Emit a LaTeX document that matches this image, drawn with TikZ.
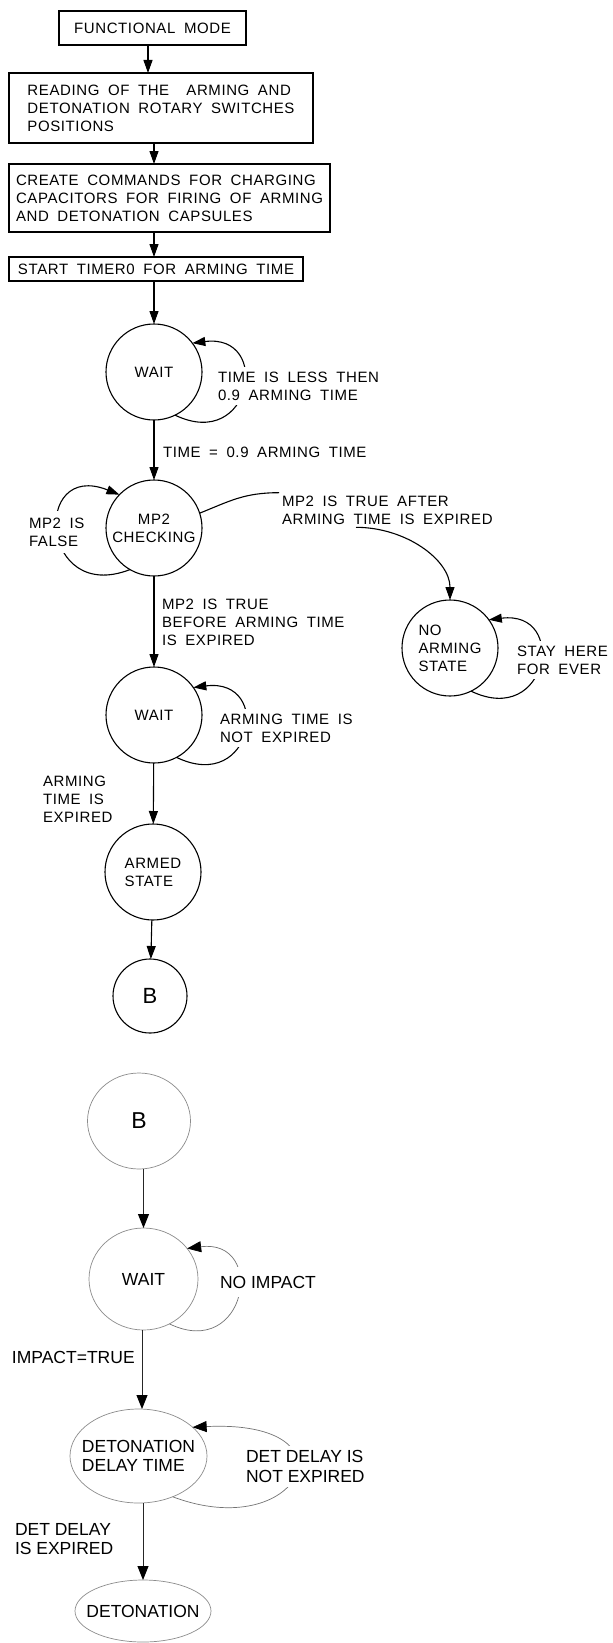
\documentclass[tikz,border=0pt]{standalone}
\usepackage{fontspec}
\setmainfont{Liberation Sans}
\newfontfamily\cadfont{Liberation Sans}[WordSpace=1.8, LetterSpace=4]
\newfontfamily\plainfont{Liberation Sans}
\usetikzlibrary{arrows.meta, shapes.geometric}

\begin{document}
\begin{tikzpicture}[x=1pt, y=-1pt,
  every node/.style={inner sep=0pt, outer sep=0pt},
  cad/.style={font=\cadfont\fontsize{15}{18}\selectfont},
  sans/.style={font=\plainfont\fontsize{17.5}{19.5}\selectfont},
  box/.style={cad, draw, line width=1.1pt, align=left},
  state/.style={cad, circle, draw, line width=1.1pt, align=center, minimum size=96pt},
  oval/.style={sans, ellipse, draw=black!45, line width=0.7pt, align=left,
               inner xsep=-20pt, inner ysep=0pt},
  arr/.style={line width=1.1pt, -{Triangle[length=13pt, width=9pt]}},
  arrb/.style={line width=1pt, black!85, -{Triangle[length=14pt, width=11pt, color=black, fill=black]}},
  loopb/.style={line width=0.7pt, black!55, -{Triangle[length=14pt, width=11pt, color=black, fill=black]}},
  tag/.style={anchor=west, align=left},
  looptag/.style={anchor=west, align=left, fill=white, inner sep=5pt},
]
\fill[white] (0,0) rectangle (611,1643);

% ---------------- arming sequence ----------------
\node[box, minimum width=187pt, minimum height=34pt] (fm) at (152.5,28) {FUNCTIONAL MODE};
\node[box, minimum width=304pt, minimum height=70pt] (rd) at (161,108)
  {READING OF THE\ \ ARMING AND\\DETONATION ROTARY SWITCHES\\POSITIONS};
\node[box, minimum width=321pt, minimum height=68pt] (cc) at (169.5,198)
  {CREATE COMMANDS FOR CHARGING\\CAPACITORS FOR FIRING OF ARMING\\AND DETONATION CAPSULES};
\node[box, minimum width=294pt, minimum height=24pt] (st) at (156,269)
  {START TIMER0 FOR ARMING TIME};

\node[state] (w1) at (154,372) {WAIT};
\node[state] (mp2) at (154,528) {MP2\\CHECKING};
\node[state, align=left] (noarm) at (450,648) {NO\\ARMING\\STATE};
\node[state] (w2) at (154,715) {WAIT};
\node[state, align=left] (armed) at (153,872) {ARMED\\STATE};
\node[state, minimum size=74pt, font=\plainfont\fontsize{22}{24}\selectfont] (b1) at (150,996) {B};

\draw[arr] ([xshift=-4.5pt]fm.south) -- ([xshift=-4.5pt]fm.south |- rd.north);
\draw[arr] (rd.south -| w1) -- (cc.north -| w1);
\draw[arr] (cc.south -| w1) -- (st.north -| w1);
\draw[arr] (st.south -| w1) -- (w1.north);
\draw[arr] (w1) -- (mp2);
\draw[arr] (mp2) -- (w2);
\draw[arr] (w2) -- (armed);
\draw[arr] (armed) -- (b1);

% self loops
\draw[arr] (w1.-64) .. controls +(77,37) and +(80,-10) .. (w1.37);
\draw[arr] (mp2.-120) .. controls +(-90,35) and +(-88,-35) .. (mp2.136);
\draw[arr] (w2.-62) .. controls +(77,37) and +(80,-10) .. (w2.35);
\draw[arr] (noarm.-64) .. controls +(77,37) and +(80,-10) .. (noarm.36);

% transition to the no-arming state
\node[cad, tag, inner sep=3pt] (after) at (279,510)
  {MP2 IS TRUE AFTER\\ARMING TIME IS EXPIRED};
\draw[line width=1.1pt] (mp2.18) .. controls +(30,-12) and +(-35,0) .. (after.north west);
\draw[arr] ([xshift=77pt]after.south west) .. controls +(50,0) and +(0,-40) .. (noarm.north);

% transition labels
\node[cad, tag] (t09) at (163,452) {TIME = 0.9 ARMING TIME};
\node[cad, tag] (tbefore) at (162,622) {MP2 IS TRUE\\BEFORE ARMING TIME\\IS EXPIRED};
\node[cad, tag] (texp) at (43,799.5) {ARMING\\TIME IS\\EXPIRED};
\node[cad, looptag] (tless) at (213,386) {TIME IS LESS THEN\\0.9 ARMING TIME};
\node[cad, looptag, inner ysep=7pt] (tfalse) at (24,532) {MP2 IS\\FALSE};
\node[cad, looptag] (tnot) at (215,728) {ARMING TIME IS\\NOT EXPIRED};
\node[cad, looptag] (tstay) at (512,660) {STAY HERE\\FOR EVER};

% ---------------- detonation sequence ----------------
\node[oval, minimum width=103pt, minimum height=96pt, font=\plainfont\fontsize{23}{25}\selectfont] (b2) at (139,1121) {B};
\node[oval, minimum width=109pt, minimum height=102pt] (w3) at (143.5,1279) {WAIT};
\node[oval, minimum width=137pt, minimum height=94pt] (dd) at (138.5,1456) {DETONATION\\DELAY TIME};
\node[oval, minimum width=136pt, minimum height=62pt] (det) at (143,1611) {DETONATION};

\draw[arrb] (w3 |- b2.south) -- (w3.north);
\draw[arrb] ([xshift=-1.5pt]w3.south) -- ([xshift=-1.5pt]w3.south |- dd.north);
\draw[arrb] (det |- dd.south) -- (det.north);

\draw[loopb] (w3.-60) .. controls +(77,37) and +(80,-10) .. (w3.35);
\draw[loopb] (dd.-50) .. controls +(127,48) and +(168,-8) .. (dd.28);

\node[sans, looptag, inner ysep=9pt] (timp) at (215,1282) {NO IMPACT};
\node[sans, tag] (ttrue) at (12,1357) {IMPACT=TRUE};
\node[sans, looptag] (tddn) at (241,1466.5) {DET DELAY IS\\NOT EXPIRED};
\node[sans, tag] (tdde) at (15,1539) {DET DELAY\\IS EXPIRED};
\end{tikzpicture}
\end{document}
